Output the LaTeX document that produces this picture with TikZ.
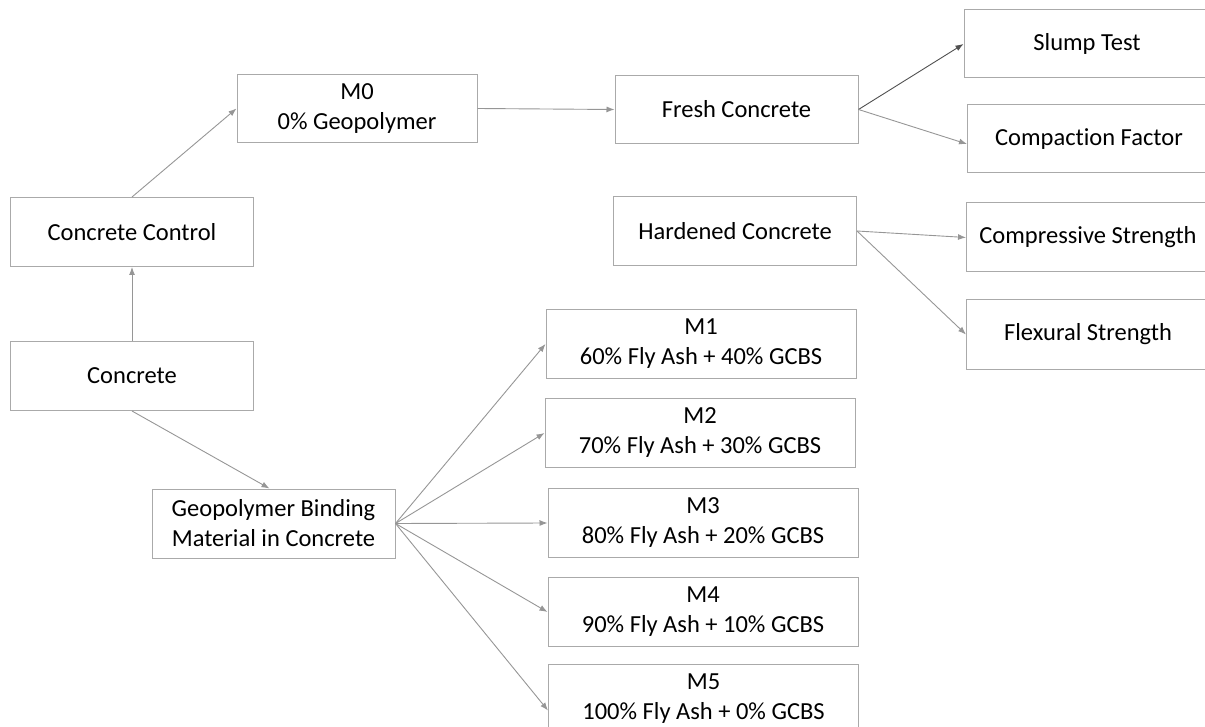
\documentclass[tikz,border=0pt]{standalone}
\usepackage{fontspec}
\setmainfont[Ligatures=NoCommon]{Carlito}
\usetikzlibrary{arrows.meta}

\definecolor{boxgray}{RGB}{170,170,170}
\definecolor{linegray}{RGB}{150,150,150}
\definecolor{darkline}{RGB}{80,80,80}

\tikzset{
	box/.style={draw=boxgray, line width=1pt, fill=white, align=center, inner sep=0pt,
		minimum width=243pt, minimum height=69pt, font=\fontsize{24.5}{30}\selectfont},
	mixbox/.style={box, minimum width=310pt},
	link/.style={draw=linegray, line width=0.9pt, -{Latex[length=8pt,width=6pt]}}
}

\begin{document}
\begin{tikzpicture}[x=1pt, y=-1pt]
	\useasboundingbox (0,0) rectangle (1205,727);
	\clip (0,0) rectangle (1205,727);

	% Left column
	\node[box] (ctrl) at (132,232) {Concrete Control};
	\node[box] (conc) at (132,376) {Concrete};
	\node[box] (geo) at (273.5,523.5) {Geopolymer Binding\\Material in Concrete};

	% Control mix and tests
	\node[box, minimum width=240pt, minimum height=68pt] (m0) at (357,108.5) {M0\\0\% Geopolymer};
	\node[box, minimum height=68pt] (fresh) at (736.5,109.5) {Fresh Concrete};
	\node[box] (hard) at (735,231) {Hardened Concrete};
	\node[box, minimum width=246pt, minimum height=68pt] (slump) at (1087,44) {Slump Test};
	\node[box, minimum height=68pt] (compact) at (1089,139) {Compaction Factor};
	\node[box] (compr) at (1088,237.5) {Compressive Strength};
	\node[box] (flex) at (1088,334.5) {Flexural Strength};

	% Geopolymer mixes
	\node[mixbox] (m1) at (701,344) {M1\\60\% Fly Ash + 40\% GCBS};
	\node[mixbox] (m2) at (700,433) {M2\\70\% Fly Ash + 30\% GCBS};
	\node[mixbox] (m3) at (703,523) {M3\\80\% Fly Ash + 20\% GCBS};
	\node[mixbox] (m4) at (703,612) {M4\\90\% Fly Ash + 10\% GCBS};
	\node[mixbox] (m5) at (703.5,698.5) {M5\\100\% Fly Ash + 0\% GCBS};

	% Arrows
	\draw[link] (conc.north) -- (ctrl.south);
	\draw[link] (ctrl.north) -- (m0.west);
	\draw[link] (m0.east) -- (fresh.west);
	\draw[link, draw=darkline] (fresh.east) -- (slump.west);
	\draw[link] (fresh.east) -- ([yshift=-5pt]compact.west);
	\draw[link] (hard.east) -- (compr.west);
	\draw[link] (hard.east) -- (flex.west);
	\draw[link] (conc.south) -- ([xshift=-4pt]geo.north);
	\foreach \m in {m1,m2,m3,m4}
		\draw[link] (geo.east) -- (\m.west);
	\draw[link] (geo.east) -- ([yshift=-12pt]m5.west);
\end{tikzpicture}
\end{document}
